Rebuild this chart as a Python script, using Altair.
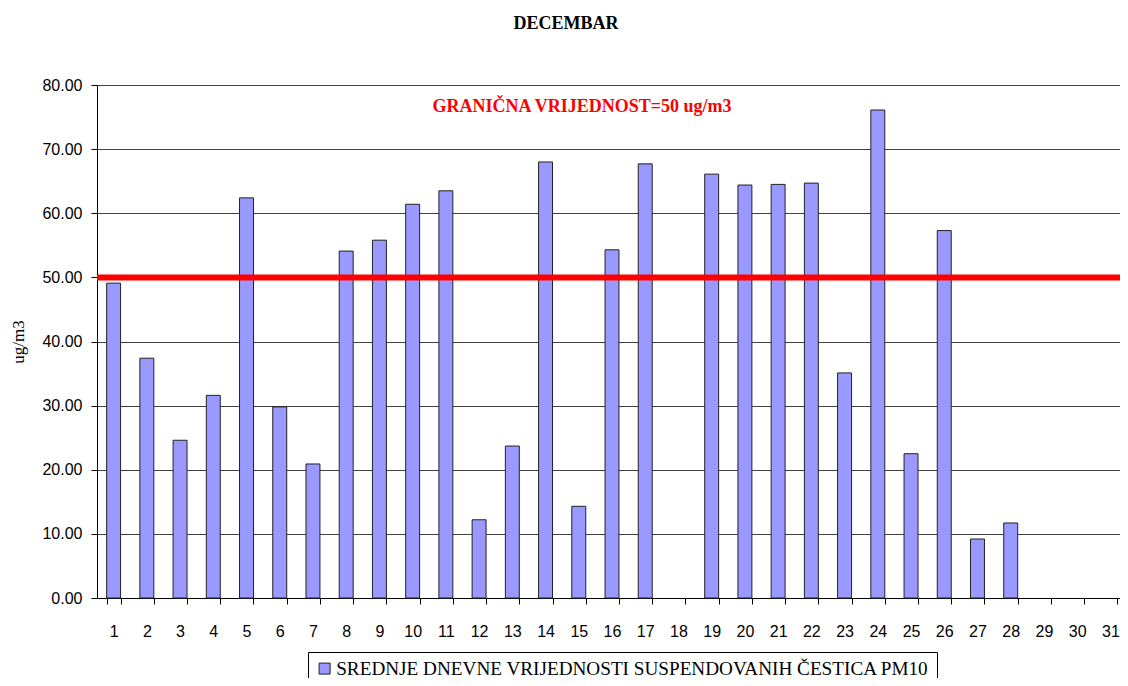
import altair as alt
import pandas as pd

days = [str(d) for d in range(1, 32)]
pm10 = [49.1, 37.4, 24.6, 31.6, 62.4, 29.8, 20.9, 54.1, 55.8, 61.4,
        63.5, 12.2, 23.7, 68.0, 14.3, 54.3, 67.7, None, 66.1, 64.4,
        64.5, 64.7, 35.1, 76.1, 22.5, 57.3, 9.2, 11.7, None, None, None]
series_name = "SREDNJE DNEVNE VRIJEDNOSTI SUSPENDOVANIH ČESTICA PM10"
limit_value = [50]
limit_label = "GRANIČNA VRIJEDNOST=50 ug/m3"
chart_title = "DECEMBAR"
y_ticks = [0, 10, 20, 30, 40, 50, 60, 70, 80]

df = pd.DataFrame({"day": days, "value": pm10, "series": [series_name] * len(days)})
limit_df = pd.DataFrame({"limit": limit_value, "label": [limit_label]})
title_df = pd.DataFrame({"title": [chart_title]})

bars = alt.Chart(df).mark_bar(stroke="#222222", strokeWidth=1).encode(
    x=alt.X("day:N", sort=days,
            scale=alt.Scale(domain=days, range=[0, 1030],
                            paddingInner=0.58, paddingOuter=0.29),
            axis=alt.Axis(title=None, labelAngle=0, tickBand="extent", tickSize=6,
                          labelFont="Liberation Sans", labelFontSize=16,
                          labelColor="#000000", labelPadding=19, grid=False,
                          domainColor="#000000", tickColor="#000000")),
    y=alt.Y("value:Q", scale=alt.Scale(domain=[0, 80], nice=False),
            axis=alt.Axis(title="ug/m3", values=y_ticks, format=".2f", tickSize=6,
                          labelFont="Liberation Sans", labelFontSize=16,
                          labelColor="#000000", labelPadding=9,
                          titleFont="Liberation Serif", titleFontSize=17,
                          titleFontWeight="normal", titleColor="#000000",
                          titlePadding=14, grid=True, gridColor="#404040",
                          gridWidth=1, domainColor="#000000", tickColor="#000000")),
    color=alt.Color("series:N",
                    scale=alt.Scale(domain=[series_name], range=["#9999FF"]),
                    legend=alt.Legend(title=None, orient="none", legendX=211, legendY=567,
                                      direction="horizontal", fillColor="white",
                                      strokeColor="#000000", padding=7,
                                      symbolType="square", symbolSize=121,
                                      symbolStrokeColor="#222222", symbolStrokeWidth=1,
                                      labelFont="Liberation Serif", labelFontSize=19.2,
                                      labelColor="#000000", labelLimit=1000,
                                      labelOffset=2)),
)

rule = alt.Chart(limit_df).mark_rule(color="#FF0000", strokeWidth=6).encode(
    y=alt.Y("limit:Q"), x=alt.value(0), x2=alt.value(1035)
)

label = alt.Chart(limit_df).mark_text(
    color="#FF0000", font="Liberation Serif", fontSize=18, fontWeight="bold",
    align="center", baseline="middle"
).encode(
    x=alt.value(485), y=alt.value(22), text="label:N"
)

title = alt.Chart(title_df).mark_text(
    color="#000000", font="Liberation Serif", fontSize=18, fontWeight="bold",
    align="center", baseline="alphabetic"
).encode(
    x=alt.value(469), y=alt.value(-56), text="title:N"
)

chart = alt.layer(bars, rule, label, title).properties(
    width=1023, height=513,
    autosize=alt.AutoSizeParams(type="none"),
    padding={"left": 89, "top": 77, "right": 0, "bottom": 80},
).configure_view(stroke=None)

chart.save("out.html", embed_options={"renderer": "svg", "actions": False})
